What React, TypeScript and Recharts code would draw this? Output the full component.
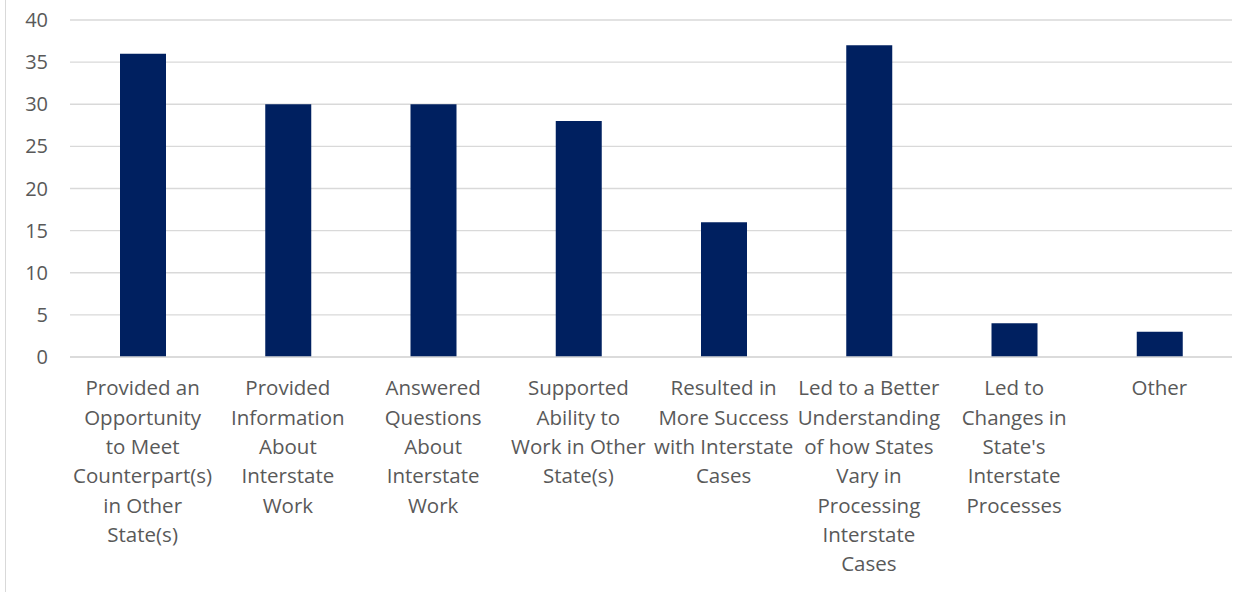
import React from "react";
import { BarChart, Bar, XAxis, YAxis, CartesianGrid } from "recharts";

const categories = [
  "Provided an\nOpportunity\nto Meet\nCounterpart(s)\nin Other\nState(s)",
  "Provided\nInformation\nAbout\nInterstate\nWork",
  "Answered\nQuestions\nAbout\nInterstate\nWork",
  "Supported\nAbility to\nWork in Other\nState(s)",
  "Resulted in\nMore Success\nwith Interstate\nCases",
  "Led to a Better\nUnderstanding\nof how States\nVary in\nProcessing\nInterstate\nCases",
  "Led to\nChanges in\nState's\nInterstate\nProcesses",
  "Other",
];
const counts = [36, 30, 30, 28, 16, 37, 4, 3];
const yTicks = [0, 5, 10, 15, 20, 25, 30, 35, 40];

const data = categories.map((c, i) => ({ name: c, value: counts[i] }));

const FONT = "'Open Sans', sans-serif";

const XTick = (props: any) => {
  const { x, y, payload } = props;
  const lines = String(payload.value).split("\n");
  return (
    <text x={x} y={y} textAnchor="middle" fill="#595959" fontSize={20.5} fontFamily={FONT}>
      {lines.map((l, i) => (
        <tspan key={i} x={x} dy={i === 0 ? 25 : 29.3} dominantBaseline="middle">
          {l}
        </tspan>
      ))}
    </text>
  );
};

export default function App() {
  return (
    <div style={{ position: "absolute", left: 0, top: 0, width: 1256, height: 592, background: "#fff" }}>
      <div style={{ position: "absolute", left: 5, top: 0, width: 0, height: 592, borderLeft: "1.5px solid #d9d9d9" }} />
      <BarChart
        width={1256}
        height={592}
        data={data}
        margin={{ top: 20, right: 24, bottom: 0, left: 0 }}
        barCategoryGap={0}
      >
        <CartesianGrid vertical={false} stroke="#d9d9d9" strokeWidth={1.3} />
        <XAxis
          dataKey="name"
          axisLine={{ stroke: "#d9d9d9", strokeWidth: 1.3 }}
          tickLine={false}
          height={235}
          interval={0}
          tick={<XTick />}
        />
        <YAxis
          width={70}
          domain={[0, 40]}
          ticks={yTicks}
          axisLine={false}
          tickLine={false}
          tickMargin={16}
          tick={{ fill: "#595959", fontSize: 20, fontFamily: FONT }}
        />
        <Bar dataKey="value" fill="#002060" barSize={46} isAnimationActive={false} />
      </BarChart>
    </div>
  );
}
